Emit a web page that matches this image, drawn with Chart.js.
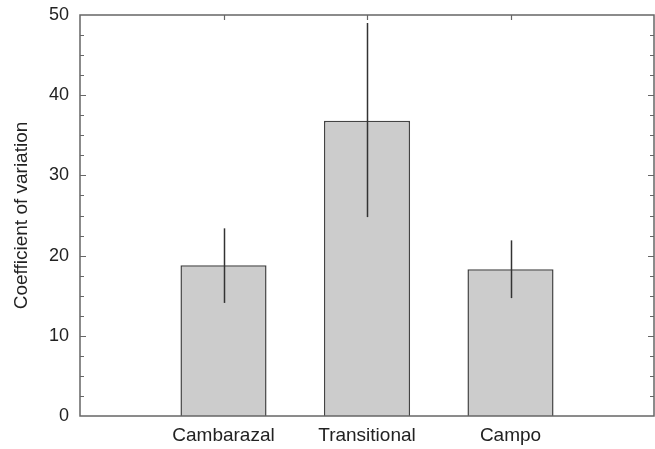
<!DOCTYPE html>
<html>
<head>
<meta charset="utf-8">
<script src="https://cdn.jsdelivr.net/npm/chart.js@4"></script>
<style>
  html, body { margin: 0; padding: 0; background: #fff; }
  #wrap { width: 655px; height: 449px; }
</style>
</head>
<body>
<div id="wrap"><canvas id="cvChart" width="655" height="449"></canvas></div>
<script>
// Datos
const categories = ['Cambarazal', 'Transitional', 'Campo'];
const meanCV = [18.8, 36.8, 18.3];   // altura de las barras
const errLow = [14.1, 24.8, 14.7];   // extremo inferior de la barra de error
const errHigh = [23.4, 49.0, 21.9];  // extremo superior de la barra de error
const yTickValues = [0, 10, 20, 30, 40, 50];

const axisFont = { family: 'Liberation Sans, Arial, sans-serif', size: 18 };
const labelFont = { family: 'Liberation Sans, Arial, sans-serif', size: 19 };

// Plugin: barras de error, marco y marcas hacia dentro
const frameAndTicks = {
    id: 'frameAndTicks',
    afterDatasetsDraw(chart) {
        const { ctx, chartArea: a, scales: { x, y } } = chart;
        ctx.save();

        // barras de error (solo línea vertical)
        ctx.strokeStyle = '#333';
        ctx.lineWidth = 1.5;
        categories.forEach((c, i) => {
            const px = Math.round(x.getPixelForValue(i + 1)) + 0.5;
            ctx.beginPath();
            ctx.moveTo(px, y.getPixelForValue(errLow[i]));
            ctx.lineTo(px, y.getPixelForValue(errHigh[i]));
            ctx.stroke();
        });

        // marco
        ctx.strokeStyle = '#666';
        ctx.lineWidth = 1.5;
        ctx.strokeRect(a.left, a.top, a.right - a.left, a.bottom - a.top);

        // marcas del eje y (izquierda y derecha)
        ctx.lineWidth = 1.2;
        for (let v = 2.5; v < 50; v += 2.5) {
            const py = Math.round(y.getPixelForValue(v)) + 0.5;
            const len = v % 10 === 0 ? 6 : 4;
            ctx.beginPath();
            ctx.moveTo(a.left, py); ctx.lineTo(a.left + len, py);
            ctx.moveTo(a.right, py); ctx.lineTo(a.right - len, py);
            ctx.stroke();
        }
        // marcas superiores en cada categoría
        categories.forEach((c, i) => {
            const px = Math.round(x.getPixelForValue(i + 1)) + 0.5;
            ctx.beginPath();
            ctx.moveTo(px, a.top); ctx.lineTo(px, a.top + 5);
            ctx.stroke();
        });
        ctx.restore();
    }
};

const ctx = document.getElementById('cvChart').getContext('2d');
const chart = new Chart(ctx, {
    type: 'bar',
    data: {
        datasets: [{
            label: 'CV',
            data: categories.map((c, i) => ({ x: i + 1, y: meanCV[i] })),
            backgroundColor: '#cccccc',
            borderColor: '#444',
            borderWidth: 1.5,
            barPercentage: 0.6,
            categoryPercentage: 1
        }]
    },
    options: {
        responsive: false,
        animation: false,
        layout: { padding: { left: 0, right: 1, top: 15, bottom: 0 } },
        plugins: {
            legend: { display: false },
            tooltip: { enabled: false }
        },
        scales: {
            x: {
                type: 'linear',
                min: 0,
                max: 4,
                offset: false,
                grid: { display: false, drawTicks: false, offset: false },
                border: { display: false },
                afterBuildTicks: (scale) => {
                    scale.ticks = categories.map((c, i) => ({ value: i + 1 }));
                },
                afterFit: (scale) => {
                    scale.height = 33;
                    scale.paddingLeft = 0;
                    scale.paddingRight = 0;
                },
                ticks: {
                    autoSkip: false,
                    maxRotation: 0,
                    padding: 8,
                    color: '#222',
                    font: labelFont,
                    callback: (v) => categories[v - 1] || ''
                }
            },
            y: {
                min: 0,
                max: 50,
                grid: { display: false, drawTicks: false },
                border: { display: false },
                afterBuildTicks: (scale) => {
                    scale.ticks = yTickValues.map(v => ({ value: v }));
                },
                afterFit: (scale) => {
                    scale.width = 80;
                    scale.paddingTop = 0;
                    scale.paddingBottom = 0;
                },
                ticks: {
                    padding: 11,
                    color: '#222',
                    font: axisFont
                },
                title: {
                    display: true,
                    text: 'Coefficient of variation',
                    color: '#222',
                    font: labelFont,
                    padding: { top: 10, bottom: 0 }
                }
            }
        }
    },
    plugins: [frameAndTicks]
});
</script>
</body>
</html>
